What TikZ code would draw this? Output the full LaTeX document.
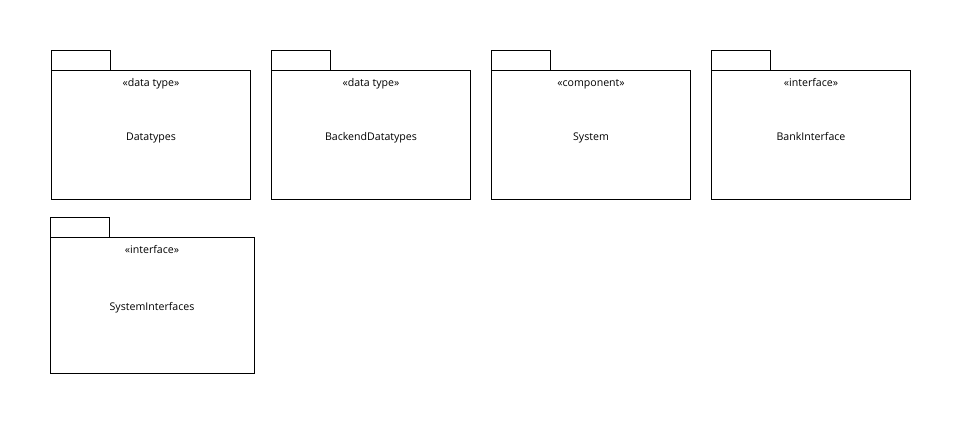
\documentclass[tikz,border=0pt]{standalone}
\usepackage{fontspec}
\setsansfont{Open Sans}
\begin{document}
\begin{tikzpicture}[x=1pt,y=-1pt,line width=1pt,font=\sffamily\fontsize{10.6}{12}\selectfont]
\tikzset{lbl/.style={text height=8pt,text depth=2.5pt,inner sep=0pt}}
\useasboundingbox (0,0) rectangle (961,424);
\foreach \x/\st/\nm [count=\i] in {51/data type/Datatypes,271/data type/BackendDatatypes,491/component/System,711/interface/BankInterface}
{
    \draw (\x,50) rectangle (\x+59,70);
    \draw (\x,70) rectangle (\x+199,199);
    \node[lbl] (st\i) at (\x+100,83.5) {«\st»};
    \node[lbl] (pkg\i) at (\x+100,137.5) {\nm};
}
\draw (50,217) rectangle (109,237);
\draw (50,237) rectangle (254,373);
\node[lbl] (st5) at (152,250.5) {«interface»};
\node[lbl] (pkg5) at (152,307.5) {SystemInterfaces};

\end{tikzpicture}
\end{document}
